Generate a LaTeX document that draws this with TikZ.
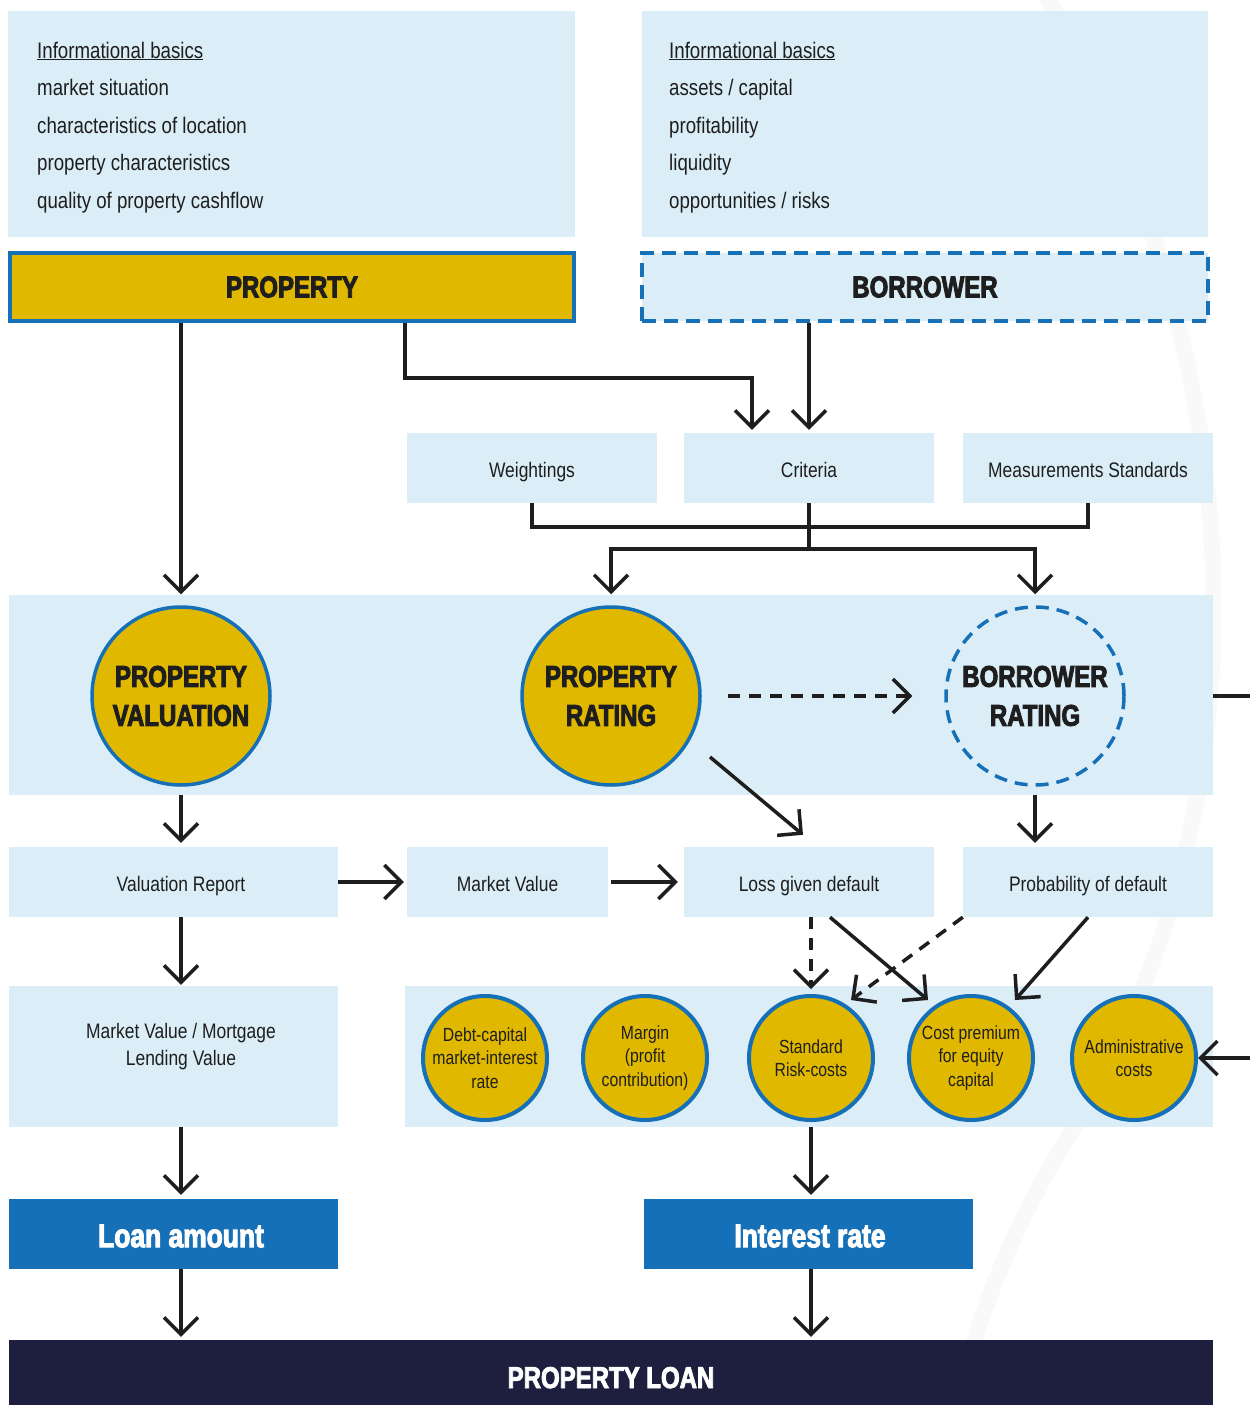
\documentclass[tikz,border=0pt]{standalone}
\usepackage{fontspec}
\setmainfont{Liberation Sans}[FakeStretch=0.83]
\newfontfamily\heavy{Liberation Sans}[FakeStretch=0.8,BoldFeatures={FakeBold=3}]
\usetikzlibrary{arrows.meta}
\definecolor{lb}{HTML}{DBEEF7}
\definecolor{gold}{HTML}{E0B800}
\definecolor{bl}{HTML}{1570B8}
\definecolor{navy}{HTML}{1E1F3E}
\definecolor{ink}{HTML}{1E1E1E}
\tikzset{
  lbbox/.style={fill=lb, draw=none, inner sep=0, text=ink, align=center, text height=19, text depth=0, font=\fontsize{21}{27}\selectfont},
  plainbox/.style={fill=lb, draw=none, inner sep=0},
  infotext/.style={anchor=north west, align=left, inner sep=0, text=ink, font=\fontsize{22.5}{37.5}\selectfont},
  bigcirc/.style={circle, fill=gold, draw=bl, line width=3.5, minimum size=178, inner sep=0, align=center, text=ink, font=\heavy\bfseries\fontsize{30}{39}\selectfont},
  smallcirc/.style={circle, fill=gold, draw=bl, line width=4, minimum size=124, inner sep=0, align=center, text=ink, font=\fontsize{19}{23.5}\selectfont},
  bluebox/.style={fill=bl, draw=none, inner sep=0},
  whitetitle/.style={text=white, inner sep=0, font=\heavy\bfseries\fontsize{33}{38}\selectfont},
  con/.style={draw=ink, line width=3.5},
  arr/.style={con, -{Straight Barb[length=17pt,width=34pt]}},
  dsh/.style={dash pattern=on 12pt off 9pt},
}
\begin{document}
\begin{tikzpicture}[x=1pt,y=-1pt]
\useasboundingbox (0,0) rectangle (1250,1405);
\fill[white] (0,0) rectangle (1250,1405);
% faint background arc
\draw[line width=16, black!2.5, line cap=round] (1043,-10) .. controls (1265,380) and (1270,820) .. (1060,1150) .. controls (1010,1235) and (975,1320) .. (955,1415);

% top info boxes
\node[plainbox, minimum width=567, minimum height=226] (info1) at (291.5,124) {};
\node[infotext] (info1t) at (37,41.5) {\underline{Informational basics}\\market situation\\characteristics of location\\property characteristics\\quality of property cashflow};
\node[plainbox, minimum width=566, minimum height=226] (info2) at (925,124) {};
\node[infotext] (info2t) at (669,41.5) {\underline{Informational basics}\\assets / capital\\profitability\\liquidity\\opportunities / risks};

% PROPERTY / BORROWER
\node[fill=gold, draw=bl, line width=4, minimum width=564, minimum height=68, inner sep=0, text=ink, font=\heavy\bfseries\fontsize{30}{36}\selectfont] (prop) at (292,287) {PROPERTY};
\node[fill=lb, draw=bl, line width=4, dash pattern=on 14pt off 8pt, minimum width=566, minimum height=68, inner sep=0, text=ink, font=\heavy\bfseries\fontsize{30}{36}\selectfont] (borr) at (925,287) {BORROWER};

% criteria row
\node[lbbox, minimum width=250, minimum height=70] (weight) at (532,468) {Weightings};
\node[lbbox, minimum width=250, minimum height=70] (crit) at (809,468) {Criteria};
\node[lbbox, minimum width=250, minimum height=70] (meas) at (1088,468) {Measurements Standards};

% rating band
\node[plainbox, minimum width=1204, minimum height=200] (band1) at (611,695) {};
\node[bigcirc] (pv) at (181,696) {PROPERTY\\VALUATION};
\node[bigcirc] (pr) at (611,696) {PROPERTY\\RATING};
\node[bigcirc, fill=none, dash pattern=on 13pt off 8pt] (br) at (1035,696) {BORROWER\\RATING};

% second row
\node[plainbox, minimum width=329, minimum height=70] (valrep) at (173.5,882) {};
\node[lbbox, fill=none] (valrept) at (181,882) {Valuation Report};
\node[lbbox, minimum width=201, minimum height=70] (mv) at (507.5,882) {Market Value};
\node[lbbox, minimum width=250, minimum height=70] (lgd) at (809,882) {Loss given default};
\node[lbbox, minimum width=250, minimum height=70] (pd) at (1088,882) {Probability of default};

% third row
\node[plainbox, minimum width=329, minimum height=141] (mvl) at (173.5,1056.5) {};
\node[align=center, inner sep=0, text=ink, font=\fontsize{21}{27}\selectfont] (mvlt) at (181,1047) {Market Value / Mortgage\\Lending Value};
\node[plainbox, minimum width=808, minimum height=141] (band2) at (809,1056.5) {};
\node[smallcirc] (dc) at (485,1058) {Debt-capital\\market-interest\\rate};
\node[smallcirc] (mg) at (645,1058) {Margin\\(profit\\contribution)};
\node[smallcirc] (src) at (811,1058) {Standard\\Risk-costs};
\node[smallcirc] (cpe) at (971,1058) {Cost premium\\for equity\\capital};
\node[smallcirc] (adm) at (1134,1058) {Administrative\\costs};

% results
\node[bluebox, minimum width=329, minimum height=70] (loan) at (173.5,1234) {};
\node[whitetitle] (loant) at (181,1236) {Loan amount};
\node[bluebox, minimum width=329, minimum height=70] (ir) at (808.5,1234) {};
\node[whitetitle] (irt) at (810,1236) {Interest rate};
\node[fill=navy, inner sep=0, minimum width=1204, minimum height=65, text height=31, text depth=0, text=white, font=\heavy\bfseries\fontsize{30}{36}\selectfont] (pl) at (611,1372.5) {PROPERTY LOAN};

\coordinate (out1) at (1250,696);
\coordinate (in2) at (1250,1058);

% connectors
\draw[arr, shorten >=11] (pv |- prop.south) -- (pv.north);
\draw[arr, shorten >=3] ([xshift=113]prop.south) -- ++(0,55) -| ([xshift=-57]crit.north);
\draw[arr, shorten >=3] (borr.south -| crit.north) -- (crit.north);
\draw[con] (weight.south) -- ++(0,24) -| (meas.south);
\draw[con] (crit.south) -- ++(0,46) coordinate (j);
\draw[arr, shorten >=11] (j) -| (pr.north);
\draw[arr, shorten >=11] (j) -| (br.north);
\draw[arr, dsh] ([xshift=26]pr.east) -- ([xshift=-32]br.west);
\draw[con] (band1.east |- br.east) -- (out1);
\draw[arr, shorten >=4] (pv |- band1.south) -- (pv |- valrep.north);
\draw[arr, shorten >=4] (br |- band1.south) -- (br |- pd.north);
\draw[arr] ([shift={(99,61)}]pr.center) -- ([shift={(-6,-12)}]lgd.north);
\draw[arr, shorten >=3] (valrep.east) -- (mv.west);
\draw[arr, shorten >=6, shorten <=3] (mv.east) -- (lgd.west);
\draw[arr, shorten >=1] (pv |- valrep.south) -- (pv |- mvl.north);
\draw[arr, dsh, shorten >=5] (lgd.south -| src.north) -- (src.north);
\draw[arr] ([xshift=21]lgd.south) -- ([shift={(-43,-58)}]cpe.center);
\draw[arr, dsh] (pd.south west) -- ([shift={(40,-58)}]src.center);
\draw[arr] (pd.south) -- ([shift={(44,-58)}]cpe.center);
\draw[arr] (in2) -- (adm.east);
\draw[arr, shorten >=4] (pv |- mvl.south) -- (pv |- loan.north);
\draw[arr, shorten >=4] (src |- band2.south) -- (src |- ir.north);
\draw[arr, shorten >=3] (pv |- loan.south) -- (pv |- pl.north);
\draw[arr, shorten >=3] (src |- ir.south) -- (src |- pl.north);
\end{tikzpicture}
\end{document}
